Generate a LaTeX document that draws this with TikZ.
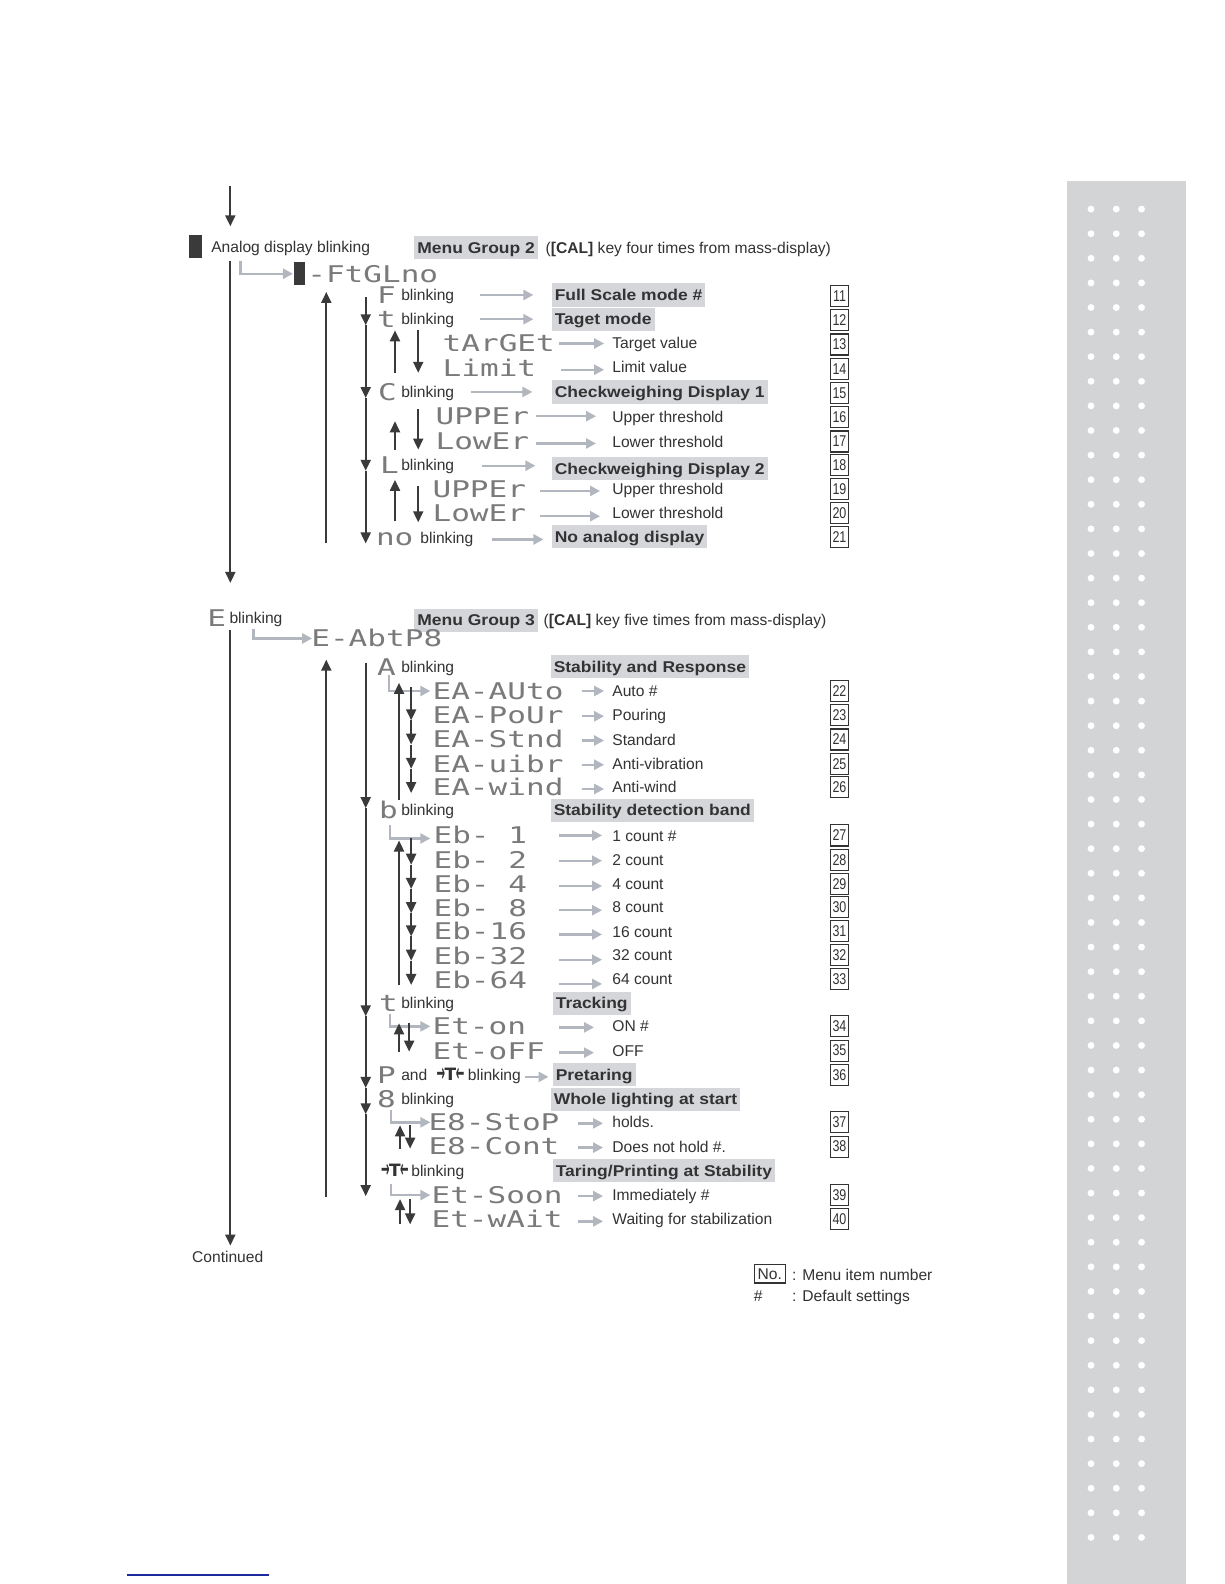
\documentclass[tikz,border=0pt]{standalone}
\usepackage{fontspec}
\usepackage{graphicx}
\setmainfont{Liberation Sans}
\newfontfamily\hlfont[FakeStretch=1.12]{Liberation Sans}
\newfontfamily\numfont[FakeStretch=0.8]{Liberation Sans}
\newfontfamily\segfont[FakeStretch=1.35]{DejaVu Sans Mono}
\newfontfamily\symfont{DejaVu Sans}
\usetikzlibrary{arrows.meta}
\definecolor{ink}{HTML}{333333}
\definecolor{dk}{HTML}{3A3A3A}
\definecolor{gc}{HTML}{B2B7BF}
\definecolor{hlc}{HTML}{D4D6DA}
\definecolor{side}{HTML}{D3D4D6}
\definecolor{segc}{HTML}{7A7A7A}
\definecolor{linkblue}{HTML}{1C2A9C}
\newcommand{\taresym}{{\symfont\bfseries\fontsize{17pt}{17pt}\selectfont\raisebox{-1.5pt}{\scalebox{0.6}[1.45]{→}}\kern-0.5pt T\kern-0.5pt\raisebox{-1.5pt}{\scalebox{0.6}[1.45]{←}}}}
\newcommand{\garrow}[4]{\coordinate (#1a) at (#2,#4); \coordinate (#1b) at (#3,#4); \draw[garr] (#1a) -- (#1b);}
\newcommand{\updown}[5]{\coordinate (#1ua) at (#2,#5); \coordinate (#1ub) at (#2,#4); \draw[darr] (#1ua) -- (#1ub);
  \coordinate (#1da) at (#3,#4); \coordinate (#1db) at (#3,#5); \draw[darr] (#1da) -- (#1db);}
\newcommand{\gell}[5]{\coordinate (#1a) at (#2,#3); \coordinate (#1b) at (#2,#4); \coordinate (#1c) at (#5,#4); \draw[garr] (#1a) -- (#1b) -- (#1c);}
\tikzset{
  lbl/.style={anchor=west, inner sep=0pt, text height=11.2pt, text depth=0pt, font=\fontsize{15.6pt}{18pt}\selectfont, text=ink},
  hl/.style={anchor=west, fill=hlc, inner xsep=3pt, inner ysep=6pt, text height=11.2pt, text depth=0pt, font=\hlfont\bfseries\fontsize{15.6pt}{18pt}\selectfont, text=ink},
  seg/.style={anchor=west, inner sep=0pt, text height=16.8pt, text depth=0pt, font=\segfont\fontsize{23pt}{24pt}\selectfont, text=segc},
  num/.style={draw=ink, line width=1.1pt, minimum width=18pt, minimum height=21pt, inner sep=0pt, font=\numfont\fontsize{15.6pt}{18pt}\selectfont, text=ink},
  darr/.style={draw=dk, line width=2pt, -{Triangle[length=11pt,width=10pt]}},
  garr/.style={draw=gc, line width=2.4pt, -{Triangle[length=10pt,width=10pt]}},
}
\begin{document}
\begin{tikzpicture}[x=1.0099pt,y=-1.0099pt]
\useasboundingbox (0,0) rectangle (1212,1568);
\fill[white] (0,0) rectangle (1212,1568);
% sidebar
\fill[side] (1056,179) rectangle (1174,1568);
\foreach \r in {0,...,54}{
  \foreach \c in {1080,1105,1130}{
    \fill[white] (\c,207+24.35*\r) circle (3.4);
  }
}
\draw[linkblue, line width=1.3pt] (126,1559) -- (266,1559);

% ================= Menu group 2 =================
\coordinate (in0) at (228,184); \coordinate (in1) at (228,224);
\draw[darr] (in0) -- (in1);
\node[fill=dk, minimum width=13pt, minimum height=23pt, inner sep=0pt, anchor=north west] (blk) at (187,232) {};
\node[lbl] (adb) at (209,244) {Analog display blinking};
\node[hl] (mg2) at (410,245) {Menu Group 2};
\node[lbl] (cal2) at (540,245) {(\textbf{[CAL]} key four times from mass-display)};
\coordinate (m2a) at (228,258); \coordinate (m2b) at (228,577);
\draw[darr] (m2a) -- (m2b);
\gell{g2}{238}{258}{271}{290}
\node[fill=dk, minimum width=11pt, minimum height=23pt, inner sep=0pt, anchor=north west] (blk2) at (291,259) {};
\node[seg] (ftglno) at (304,271) {-FtGLno};

\coordinate (u2a) at (323,538); \coordinate (u2b) at (323,289);
\draw[darr] (u2a) -- (u2b);
\coordinate (d2a) at (362,294); \coordinate (d2b) at (362,322); \coordinate (d2c) at (362,394);
\coordinate (d2d) at (362,466); \coordinate (d2e) at (362,538);
\draw[darr] (d2a) -- (d2b); \draw[darr] (d2b) -- (d2c); \draw[darr] (d2c) -- (d2d); \draw[darr] (d2d) -- (d2e);

% F
\node[seg] (sF) at (373,292) {F};
\node[lbl] (bF) at (397,292) {blinking};
\garrow{aF}{475}{528}{292}
\node[hl] (hF) at (546,292) {Full Scale mode \#};
\node[num] (n11) at (831,293) {11};
% t
\node[seg] (st) at (373,316) {t};
\node[lbl] (bt) at (397,316) {blinking};
\garrow{at}{475}{528}{316}
\node[hl] (ht) at (546,316) {Taget mode};
\node[num] (n12) at (831,317) {12};
\node[seg] (s13) at (438,340) {tArGEt};
\garrow{a13}{553}{598}{340}
\node[lbl] (t13) at (606,339) {Target value};
\node[num] (n13) at (831,341) {13};
\node[seg] (s14) at (438,364) {Limit};
\garrow{a14}{555}{598}{366}
\node[lbl] (t14) at (606,363) {Limit value};
\node[num] (n14) at (831,365) {14};
\updown{ud1}{391}{414}{327}{369}
% C
\node[seg] (sC) at (374,388) {C};
\node[lbl] (bC) at (397,388) {blinking};
\garrow{aC}{466}{527}{388}
\node[hl] (hC) at (546,388) {Checkweighing Display 1};
\node[num] (n15) at (831,389) {15};
\node[seg] (s16) at (431,412) {UPPEr};
\garrow{a16}{531}{590}{412}
\node[lbl] (t16) at (606,413) {Upper threshold};
\node[num] (n16) at (831,413) {16};
\node[seg] (s17) at (431,437) {LowEr};
\garrow{a17}{531}{590}{439}
\node[lbl] (t17) at (606,437) {Lower threshold};
\node[num] (n17) at (831,437) {17};
\coordinate (ud2ua) at (391,445); \coordinate (ud2ub) at (391,417); \draw[darr] (ud2ua) -- (ud2ub);
\coordinate (ud2da) at (414,405); \coordinate (ud2db) at (414,445); \draw[darr] (ud2da) -- (ud2db);
% L
\node[seg] (sL) at (376,460) {L};
\node[lbl] (bL) at (397,460) {blinking};
\garrow{aL}{477}{530}{461}
\node[hl] (hL) at (546,464) {Checkweighing Display 2};
\node[num] (n18) at (831,460) {18};
\node[seg] (s19) at (428,484) {UPPEr};
\garrow{a19}{535}{594}{486}
\node[lbl] (t19) at (606,484) {Upper threshold};
\node[num] (n19) at (831,484) {19};
\node[seg] (s20) at (428,508) {LowEr};
\garrow{a20}{535}{594}{511}
\node[lbl] (t20) at (606,508) {Lower threshold};
\node[num] (n20) at (831,508) {20};
\coordinate (ud3ua) at (391,516); \coordinate (ud3ub) at (391,475); \draw[darr] (ud3ua) -- (ud3ub);
\coordinate (ud3da) at (414,481); \coordinate (ud3db) at (414,517); \draw[darr] (ud3da) -- (ud3db);
% no
\node[seg] (sno) at (372,532) {no};
\node[lbl] (bno) at (416,532) {blinking};
\garrow{ano}{487}{538}{534}
\node[hl] (hno) at (546,531) {No analog display};
\node[num] (n21) at (831,532) {21};

% ================= Menu group 3 =================
\node[seg] (sE) at (205,612) {E};
\node[lbl] (bE) at (227,612) {blinking};
\node[hl] (mg3) at (410,614) {Menu Group 3};
\node[lbl] (cal3) at (538,614) {(\textbf{[CAL]} key five times from mass-display)};
\coordinate (m3a) at (228,624); \coordinate (m3b) at (228,1233);
\draw[darr] (m3a) -- (m3b);
\gell{g3}{251}{623}{632}{309}
\node[seg] (eabt) at (308,632) {E-AbtP8};

\coordinate (u3a) at (323,1185); \coordinate (u3b) at (323,653);
\draw[darr] (u3a) -- (u3b);
\coordinate (d3a) at (362,656); \coordinate (d3b) at (362,800); \coordinate (d3c) at (362,1006);
\coordinate (d3d) at (362,1077); \coordinate (d3e) at (362,1103); \coordinate (d3f) at (362,1184);
\draw[darr] (d3a) -- (d3b); \draw[darr] (d3b) -- (d3c); \draw[darr] (d3c) -- (d3d);
\draw[darr] (d3d) -- (d3e); \draw[darr] (d3e) -- (d3f);

% A
\node[seg] (sA) at (373,660) {A};
\node[lbl] (bA) at (397,660) {blinking};
\node[hl] (hA) at (545,660) {Stability and Response};
\gell{gA}{385}{668}{684}{426}
\node[seg] (s22) at (428,684) {EA-AUto};
\garrow{a22}{576}{598}{684}
\node[lbl] (t22) at (606,684) {Auto \#};
\node[num] (n22) at (831,684) {22};
\node[seg] (s23) at (428,708) {EA-PoUr};
\garrow{a23}{576}{598}{709}
\node[lbl] (t23) at (606,708) {Pouring};
\node[num] (n23) at (831,708) {23};
\node[seg] (s24) at (428,732) {EA-Stnd};
\garrow{a24}{576}{598}{733}
\node[lbl] (t24) at (606,732) {Standard};
\node[num] (n24) at (831,732) {24};
\node[seg] (s25) at (428,756) {EA-uibr};
\garrow{a25}{576}{598}{757}
\node[lbl] (t25) at (606,756) {Anti-vibration};
\node[num] (n25) at (831,756) {25};
\node[seg] (s26) at (428,779) {EA-wind};
\garrow{a26}{576}{598}{781}
\node[lbl] (t26) at (606,779) {Anti-wind};
\node[num] (n26) at (831,779) {26};
\coordinate (uAa) at (395,792); \coordinate (uAb) at (395,676); \draw[darr] (uAa) -- (uAb);
\coordinate (dAa) at (407,680); \coordinate (dAb) at (407,713); \coordinate (dAc) at (407,737);
\coordinate (dAd) at (407,761); \coordinate (dAe) at (407,785);
\draw[darr] (dAa) -- (dAb); \draw[darr] (dAb) -- (dAc); \draw[darr] (dAc) -- (dAd); \draw[darr] (dAd) -- (dAe);

% b
\node[seg] (sb) at (375,802) {b};
\node[lbl] (bb) at (397,802) {blinking};
\node[hl] (hb) at (545,802) {Stability detection band};
\gell{gb}{386}{817}{830}{426}
\node[seg] (s27) at (429,827) {Eb- 1};
\garrow{a27}{553}{596}{827}
\node[lbl] (t27) at (606,827) {1 count \#};
\node[num] (n27) at (831,827) {27};
\node[seg] (s28) at (429,851) {Eb- 2};
\garrow{a28}{553}{596}{852}
\node[lbl] (t28) at (606,851) {2 count};
\node[num] (n28) at (831,851) {28};
\node[seg] (s29) at (429,875) {Eb- 4};
\garrow{a29}{553}{596}{877}
\node[lbl] (t29) at (606,875) {4 count};
\node[num] (n29) at (831,875) {29};
\node[seg] (s30) at (429,899) {Eb- 8};
\garrow{a30}{553}{596}{901}
\node[lbl] (t30) at (606,898) {8 count};
\node[num] (n30) at (831,898) {30};
\node[seg] (s31) at (429,922) {Eb-16};
\garrow{a31}{553}{596}{925}
\node[lbl] (t31) at (606,922) {16 count};
\node[num] (n31) at (831,922) {31};
\node[seg] (s32) at (429,946) {Eb-32};
\garrow{a32}{553}{596}{950}
\node[lbl] (t32) at (606,945) {32 count};
\node[num] (n32) at (831,945) {32};
\node[seg] (s33) at (429,970) {Eb-64};
\garrow{a33}{553}{596}{974}
\node[lbl] (t33) at (606,969) {64 count};
\node[num] (n33) at (831,969) {33};
\coordinate (uba) at (395,975); \coordinate (ubb) at (395,832); \draw[darr] (uba) -- (ubb);
\coordinate (dba) at (407,830); \coordinate (dbb) at (407,856); \coordinate (dbc) at (407,880);
\coordinate (dbd) at (407,904); \coordinate (dbe) at (407,927); \coordinate (dbf) at (407,951); \coordinate (dbg) at (407,975);
\draw[darr] (dba) -- (dbb); \draw[darr] (dbb) -- (dbc); \draw[darr] (dbc) -- (dbd);
\draw[darr] (dbd) -- (dbe); \draw[darr] (dbe) -- (dbf); \draw[darr] (dbf) -- (dbg);

% t tracking
\node[seg] (st3) at (375,993) {t};
\node[lbl] (bt3) at (397,993) {blinking};
\node[hl] (ht3) at (547,993) {Tracking};
\gell{gt}{386}{1004}{1016}{426}
\node[seg] (s34) at (428,1016) {Et-on};
\garrow{a34}{553}{588}{1017}
\node[lbl] (t34) at (606,1016) {ON \#};
\node[num] (n34) at (831,1016) {34};
\node[seg] (s35) at (428,1040) {Et-oFF};
\garrow{a35}{553}{588}{1042}
\node[lbl] (t35) at (606,1040) {OFF};
\node[num] (n35) at (831,1040) {35};
\updown{ud4}{395}{405}{1013}{1041}

% P and tare
\node[seg] (sP) at (373,1064) {P};
\node[lbl] (andP) at (397,1064) {and};
\node[lbl] (tare1) at (432,1064) {\taresym};
\node[lbl] (bP) at (463,1064) {blinking};
\garrow{aP}{520}{543}{1066}
\node[hl] (hP) at (547,1064) {Pretaring};
\node[num] (n36) at (831,1064) {36};

% 8
\node[seg] (s8) at (373,1088) {8};
\node[lbl] (b8) at (397,1088) {blinking};
\node[hl] (h8) at (545,1088) {Whole lighting at start};
\gell{g8}{387}{1099}{1111}{426}
\node[seg] (s37) at (424,1111) {E8-StoP};
\garrow{a37}{572}{597}{1112}
\node[lbl] (t37) at (606,1111) {holds.};
\node[num] (n37) at (831,1111) {37};
\node[seg] (s38) at (424,1135) {E8-Cont};
\garrow{a38}{572}{597}{1136}
\node[lbl] (t38) at (606,1135) {Does not hold \#.};
\node[num] (n38) at (831,1135) {38};
\updown{ud5}{396}{406}{1114}{1137}

% tare blinking
\node[lbl] (tare2) at (377,1159) {\taresym};
\node[lbl] (btare) at (407,1159) {blinking};
\node[hl] (htare) at (547,1159) {Taring/Printing at Stability};
\gell{gtr}{387}{1172}{1183}{426}
\node[seg] (s39) at (427,1183) {Et-Soon};
\garrow{a39}{572}{597}{1184}
\node[lbl] (t39) at (606,1183) {Immediately \#};
\node[num] (n39) at (831,1183) {39};
\node[seg] (s40) at (427,1207) {Et-wAit};
\garrow{a40}{572}{597}{1209}
\node[lbl] (t40) at (606,1207) {Waiting for stabilization};
\node[num] (n40) at (831,1207) {40};
\updown{ud6}{396}{406}{1187}{1212}

\node[lbl] (cont) at (190,1244) {Continued};

% legend
\node[draw=ink, line width=1.1pt, anchor=west, inner xsep=3.5pt, inner ysep=3.5pt, text height=11.2pt, text depth=0pt, font=\fontsize{15.6pt}{18pt}\selectfont, text=ink] (nobox) at (746,1261) {No.};
\node[lbl] (leg1) at (784,1262) {: Menu item number};
\node[lbl] (hash) at (746,1283) {\#};
\node[lbl] (leg2) at (784,1283) {: Default settings};
\end{tikzpicture}
\end{document}
